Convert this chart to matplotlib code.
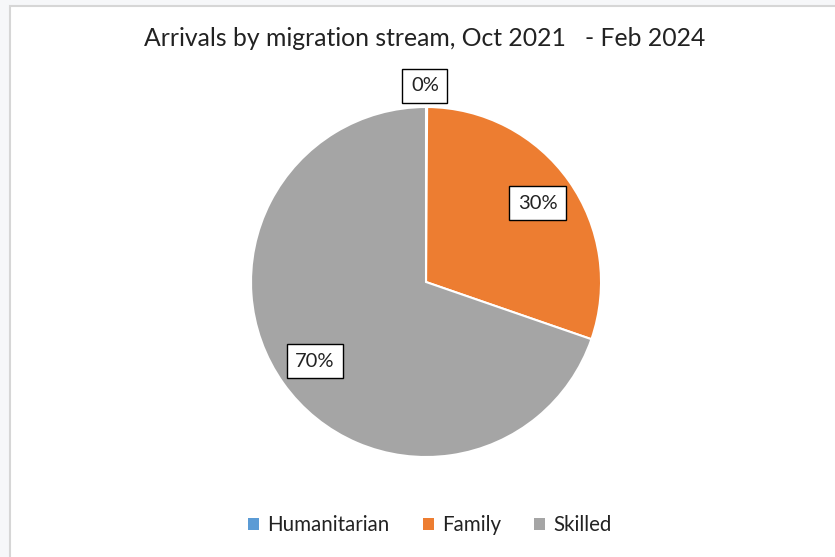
import numpy as np
import matplotlib.pyplot as plt
from matplotlib.patches import Rectangle, Patch

# data (percent of arrivals)
streams = ["Humanitarian", "Family", "Skilled"]
shares = [0.1, 30.2, 69.7]
colors = ["#5B9BD5", "#ED7D31", "#A5A5A5"]
title = "Arrivals by migration stream, Oct 2021   - Feb 2024"

plt.rcParams["font.family"] = ["Lato", "DejaVu Sans"]

fig = plt.figure(figsize=(8.35, 5.57), dpi=100)
fig.patch.set_facecolor("#F6F7F9")
# white chart area with a thin grey frame (left/top edges visible)
fig.patches.append(Rectangle((10 / 835, -0.05), 1.1, 1.05 - 6 / 557,
                             transform=fig.transFigure, facecolor="white",
                             edgecolor="#D6D6D6", linewidth=1.5, zorder=-5))

ax = fig.add_axes([0.3006, 0.1795, 0.4192, 0.6284])
ax.patch.set_visible(False)
wedges, _ = ax.pie(shares, colors=colors, startangle=90, counterclock=False,
                   radius=1.0, wedgeprops=dict(edgecolor="white", linewidth=1.5))
ax.set_xlim(-1, 1)
ax.set_ylim(-1, 1)
ax.set_aspect("equal")
ax.axis("off")

# data labels in boxes, placed along each wedge's mid angle
total = sum(shares)
for w, v in zip(wedges, shares):
    mid = np.deg2rad((w.theta1 + w.theta2) / 2)
    dist = 0.78 if v / total > 0.05 else 1.12
    ax.text(dist * np.cos(mid) - (0.01 if dist > 1 else 0), dist * np.sin(mid),
            f"{v / total * 100:.0f}%",
            ha="center", va="center", fontsize=14.5, color="#222222",
            bbox=dict(boxstyle="square,pad=0.42", facecolor="white",
                      edgecolor="black", linewidth=1.0))

fig.text(0.508, 1 - 38 / 557, title, ha="center", va="center",
         fontsize=17.8, color="#222222")

handles = [Patch(facecolor=c, edgecolor="none") for c in colors]
fig.legend(handles, streams, loc="center", bbox_to_anchor=(0.515, 1 - 525 / 557),
           ncol=3, frameon=False, fontsize=14.8, handlelength=0.55, handleheight=0.55,
           handletextpad=0.4, columnspacing=1.6, labelcolor="#222222")

fig.savefig("out.png", dpi=100, facecolor=fig.get_facecolor())
